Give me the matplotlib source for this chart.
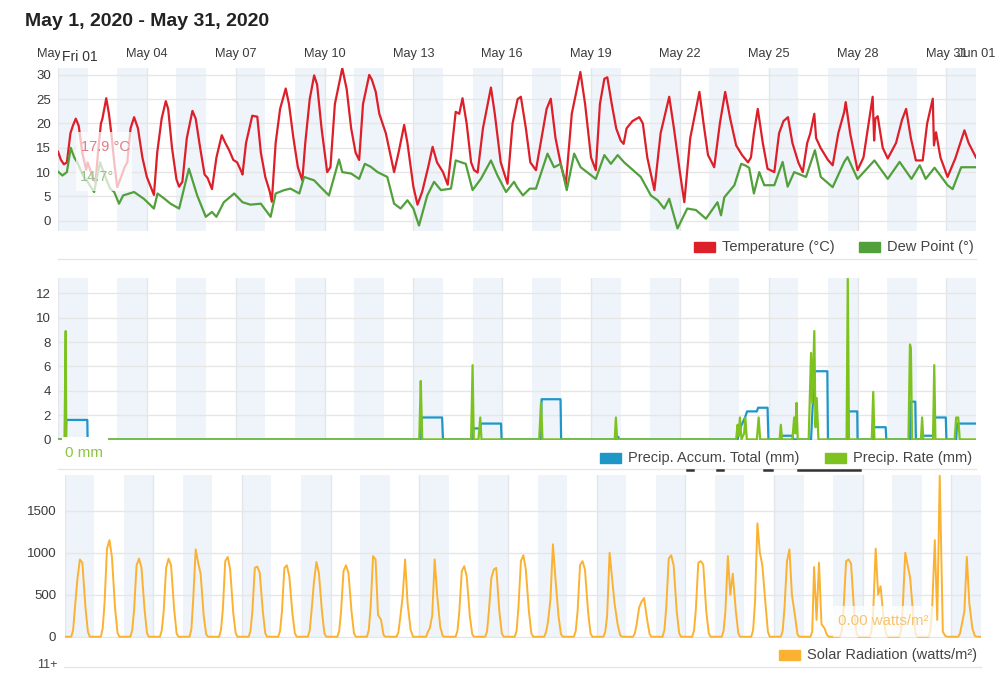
# Weather history chart, May 2020 (temperature / precipitation / solar)
import numpy as np
import matplotlib.pyplot as plt
from matplotlib.patches import Rectangle
from matplotlib.lines import Line2D

plt.rcParams['font.family'] = ['Liberation Sans', 'DejaVu Sans']

# --- data (time in days since May 1 00:00) ---
tick_days = [0, 3, 6, 9, 12, 15, 18, 21, 24, 27, 30, 31]
tick_labels = ['May 01', 'May 04', 'May 07', 'May 10', 'May 13', 'May 16',
               'May 19', 'May 22', 'May 25', 'May 28', 'May 31', 'Jun 01']

temp_t = [0.0, 0.1, 0.2, 0.3, 0.42, 0.5, 0.6, 0.7, 0.82, 0.95, 1.0, 1.2, 1.27, 1.35, 1.45,
          1.5, 1.63, 1.72, 1.8, 1.9, 2.0, 2.1, 2.25, 2.34, 2.45, 2.57, 2.7, 2.85, 3.0, 3.24,
          3.35, 3.5, 3.64, 3.72, 3.85, 4.0, 4.09, 4.2, 4.35, 4.54, 4.65, 4.8, 4.95, 5.05, 5.2,
          5.35, 5.53, 5.65, 5.78, 5.92, 6.05, 6.2, 6.23, 6.35, 6.56, 6.73, 6.85, 7.0, 7.15, 7.22,
          7.35, 7.5, 7.69, 7.8, 7.95, 8.1, 8.25, 8.35, 8.5, 8.65, 8.75, 8.9, 9.09, 9.2, 9.35,
          9.6, 9.75, 9.9, 10.05, 10.17, 10.3, 10.51, 10.6, 10.73, 10.85, 11.07, 11.35, 11.5, 11.69, 11.8,
          12.0, 12.14, 12.3, 12.5, 12.65, 12.8, 13.0, 13.16, 13.3, 13.43, 13.55, 13.66, 13.8, 13.95, 14.05,
          14.17, 14.35, 14.62, 14.75, 14.95, 15.18, 15.35, 15.52, 15.63, 15.8, 15.95, 16.14, 16.3, 16.5, 16.64,
          16.8, 17.0, 17.15, 17.35, 17.64, 17.8, 18.0, 18.16, 18.3, 18.45, 18.55, 18.7, 18.85, 19.0, 19.1,
          19.2, 19.4, 19.63, 19.75, 19.9, 20.14, 20.35, 20.64, 20.8, 21.0, 21.15, 21.35, 21.66, 21.8, 21.95,
          22.16, 22.35, 22.53, 22.7, 22.9, 23.1, 23.3, 23.4, 23.5, 23.63, 23.8, 23.96, 24.19, 24.35, 24.5,
          24.65, 24.8, 25.0, 25.15, 25.3, 25.4, 25.54, 25.6, 25.75, 26.0, 26.16, 26.35, 26.55, 26.6, 26.75,
          27.0, 27.2, 27.4, 27.51, 27.56, 27.6, 27.68, 27.85, 28.02, 28.3, 28.5, 28.64, 28.8, 28.97, 29.2,
          29.35, 29.54, 29.58, 29.65, 29.8, 30.04, 30.3, 30.61, 30.75, 31.0]
temp_v = [14.2, 12.5, 11.6, 12.0, 18.0, 19.5, 21.0, 19.5, 14.0, 10.5, 12.0, 8.5, 8.0, 14.0, 20.0,
          21.0, 25.2, 22.0, 18.0, 12.0, 6.9, 8.5, 11.0, 12.0, 19.0, 21.3, 19.0, 13.0, 9.0, 5.3,
          14.0, 21.0, 24.6, 23.0, 15.0, 8.5, 7.0, 8.0, 17.0, 22.6, 21.0, 15.0, 9.5, 8.8, 6.5,
          13.0, 17.6, 16.0, 14.5, 12.5, 12.0, 10.0, 9.5, 16.0, 21.6, 21.4, 14.0, 9.0, 6.0, 3.9,
          16.0, 23.0, 27.2, 24.0, 17.0, 11.0, 8.3, 16.0, 25.0, 29.9, 28.0, 19.0, 10.0, 11.0, 24.0,
          31.4, 27.0, 19.0, 14.0, 12.5, 24.0, 30.0, 29.0, 26.5, 22.0, 18.0, 10.0, 14.0, 19.7, 16.0,
          7.0, 3.3, 6.0, 11.0, 15.2, 12.0, 10.0, 7.4, 15.0, 22.4, 22.0, 25.2, 20.0, 12.0, 10.4,
          9.9, 19.0, 27.4, 22.0, 12.0, 7.6, 20.0, 25.0, 25.5, 19.0, 12.0, 10.4, 16.0, 23.0, 25.1,
          17.0, 11.0, 7.6, 22.0, 30.6, 24.0, 13.0, 10.4, 24.0, 29.2, 29.5, 24.0, 19.0, 16.5, 15.8,
          19.0, 20.5, 21.3, 20.0, 13.0, 6.3, 18.0, 25.5, 19.0, 10.0, 3.8, 17.0, 26.5, 20.0, 13.5,
          11.0, 20.0, 26.5, 21.0, 15.5, 13.5, 12.0, 13.0, 18.0, 23.0, 16.0, 10.7, 10.0, 18.0, 20.5,
          21.3, 16.0, 12.0, 10.0, 16.0, 17.9, 22.0, 17.0, 15.0, 12.5, 11.4, 18.0, 22.4, 24.4, 18.0,
          10.4, 13.0, 21.0, 25.5, 16.5, 21.0, 21.5, 15.0, 12.8, 16.0, 20.7, 23.0, 17.0, 12.4, 12.4,
          20.0, 25.1, 15.5, 18.2, 13.0, 9.0, 12.8, 18.6, 16.0, 13.0]

dew_t = [0.0, 0.15, 0.3, 0.43, 0.55, 0.65, 0.85, 1.0, 1.22, 1.35, 1.42, 1.6, 1.76, 1.9, 2.06,
         2.2, 2.57, 2.9, 3.24, 3.36, 3.6, 3.8, 4.09, 4.42, 4.7, 4.99, 5.2, 5.35, 5.6, 5.95,
         6.23, 6.5, 6.85, 7.18, 7.35, 7.64, 7.85, 8.15, 8.31, 8.65, 8.87, 9.15, 9.49, 9.6, 9.9,
         10.17, 10.36, 10.56, 10.79, 11.12, 11.35, 11.57, 11.8, 12.0, 12.19, 12.47, 12.7, 12.93, 13.27, 13.43,
         13.77, 14.0, 14.28, 14.62, 14.84, 15.13, 15.4, 15.5, 15.7, 15.93, 16.14, 16.53, 16.75, 16.98, 17.18,
         17.43, 17.65, 18.16, 18.45, 18.67, 18.9, 19.12, 19.68, 20.02, 20.25, 20.47, 20.64, 20.92, 21.25, 21.54,
         21.88, 22.27, 22.39, 22.5, 22.84, 23.07, 23.2, 23.34, 23.5, 23.68, 23.85, 24.19, 24.47, 24.64, 24.86,
         25.26, 25.56, 25.76, 26.16, 26.55, 26.66, 27.0, 27.57, 28.02, 28.42, 28.82, 29.1, 29.3, 29.6, 30.04,
         30.21, 30.5, 31.0]
dew_v = [10.1, 9.3, 10.0, 15.0, 13.0, 12.0, 9.3, 8.0, 5.9, 10.0, 12.0, 9.0, 6.6, 5.9, 3.5,
         5.2, 5.9, 4.5, 2.5, 5.6, 4.5, 3.5, 2.5, 10.7, 5.2, 0.8, 1.8, 0.8, 3.8, 5.6,
         3.8, 3.3, 3.5, 0.8, 5.6, 6.3, 6.6, 5.6, 9.0, 8.3, 6.9, 5.2, 12.6, 10.0, 9.7,
         8.6, 11.7, 11.1, 10.0, 9.0, 3.5, 2.5, 4.2, 2.5, -1.0, 5.2, 8.0, 6.3, 6.6, 12.4,
         11.7, 6.3, 8.6, 12.4, 9.3, 5.9, 8.0, 6.9, 5.2, 6.6, 6.6, 13.8, 11.0, 11.7, 6.3,
         13.8, 11.0, 8.6, 13.5, 11.7, 13.5, 12.0, 9.0, 5.2, 4.2, 2.5, 4.5, -1.6, 2.5, 2.2,
         0.4, 3.8, 1.1, 4.8, 7.3, 11.7, 11.4, 10.9, 5.6, 10.0, 7.3, 7.3, 12.1, 7.0, 10.0,
         9.0, 14.5, 9.0, 6.9, 12.1, 13.1, 8.6, 12.4, 8.6, 12.1, 8.6, 11.4, 8.6, 10.9, 7.3,
         6.5, 11.0, 11.0]

rate_t = [0.0, 0.22, 0.26, 0.28, 12.2, 12.25, 12.28, 12.3, 13.95, 14.0, 14.04, 14.2, 14.26, 14.3,
          16.25, 16.31, 16.36, 18.8, 18.84, 18.88, 22.9, 22.95, 22.98, 23.03, 23.08, 23.17, 23.21, 23.26,
          23.6, 23.66, 23.71, 24.37, 24.41, 24.45, 24.8, 24.86, 24.9, 24.94, 24.98,
          25.35, 25.43, 25.47, 25.54, 25.58, 25.62, 25.68, 26.63, 26.67, 26.71, 27.48, 27.53, 27.57,
          28.72, 28.77, 28.8, 28.84, 29.14, 29.18, 29.22, 29.55, 29.59, 29.63, 30.28, 30.33, 30.4, 30.45, 31.0]
rate_v = [0, 0, 8.9, 0, 0, 4.8, 1.8, 0, 0, 6.1, 0, 0, 1.8, 0,
          0, 3.0, 0, 0, 1.8, 0, 0, 1.2, 0.3, 1.8, 0, 0.5, 1.8, 0,
          0, 1.8, 0, 0, 1.2, 0, 0, 1.8, 0.5, 3.0, 0,
          0, 7.1, 3.0, 8.9, 1.0, 3.4, 0, 0, 13.2, 0, 0, 3.9, 0,
          0, 7.8, 7.5, 0, 0, 1.8, 0, 0, 6.1, 0, 0, 1.8, 1.8, 0, 0]

accum_t = [0.0, 0.26, 0.28, 0.99, 1.0, 12.25, 12.28, 12.97, 13.0, 14.0, 14.03, 14.26, 14.28, 14.96, 14.98,
           16.3, 16.33, 16.97, 16.99, 18.84, 18.86, 18.92, 18.95, 22.95, 23.05, 23.2, 23.27, 23.6, 23.64,
           23.96, 23.99, 24.4, 24.42, 24.8, 24.83, 25.43, 25.5, 25.55, 25.98, 26.0, 26.67, 26.69, 26.99, 27.0,
           27.53, 27.55, 27.95, 27.97, 28.77, 28.79, 28.95, 28.97, 29.18, 29.2, 29.55, 29.6, 29.98, 30.0,
           30.33, 30.36, 31.0]
accum_v = [0, 0, 1.6, 1.6, 0, 0, 1.8, 1.8, 0, 0, 0.9, 0.9, 1.3, 1.3, 0,
           0, 3.3, 3.3, 0, 0, 0.2, 0.2, 0, 0, 1.0, 1.8, 2.3, 2.3, 2.6,
           2.6, 0, 0, 0.3, 0.3, 0, 0, 3.5, 5.6, 5.6, 0, 0, 2.3, 2.3, 0,
           0, 1.0, 1.0, 0, 0, 3.1, 3.1, 0, 0, 0.3, 0.3, 1.8, 1.8, 0,
           0, 1.3, 1.3]

# solar radiation, sampled at these hours of each day (0 before/after)
solar_hours = [5.5, 7, 8.5, 10.5, 12.5, 14.5, 17, 19, 20.5]
solar_days = [
    [80, 350, 690, 920, 880, 350, 60], [100, 400, 1050, 1150, 950, 350, 50],
    [80, 320, 850, 930, 820, 320, 40], [80, 300, 820, 930, 850, 330, 40],
    [90, 450, 1040, 880, 750, 250, 30], [80, 320, 900, 950, 800, 280, 40],
    [70, 300, 820, 835, 760, 300, 40], [70, 300, 820, 850, 720, 280, 40],
    [70, 300, 650, 890, 760, 300, 40], [70, 300, 780, 850, 760, 300, 40],
    [80, 350, 960, 920, 260, 200, 20], [50, 220, 480, 920, 400, 80, 0],
    [60, 100, 250, 920, 500, 120, 10], [70, 300, 780, 840, 720, 250, 30],
    [60, 300, 700, 800, 820, 300, 40], [70, 350, 900, 970, 800, 300, 40],
    [60, 180, 450, 1100, 700, 250, 30], [70, 300, 850, 900, 800, 300, 40],
    [60, 250, 1000, 700, 400, 150, 20], [40, 150, 350, 420, 460, 200, 30],
    [80, 350, 930, 970, 850, 300, 40], [70, 320, 880, 900, 860, 300, 40],
    [70, 300, 960, 500, 750, 300, 40], [80, 400, 1350, 1000, 850, 400, 60],
    [70, 350, 900, 1040, 500, 250, 30], [60, 830, 200, 880, 150, 100, 20],
    [70, 350, 900, 920, 870, 300, 40], [60, 300, 1050, 500, 600, 200, 30],
    [70, 350, 1000, 850, 700, 250, 30], [80, 400, 1150, 200, 1925, 60, 10],
    [40, 150, 300, 950, 400, 100, 10],
]

solar_t, solar_v = [0.0], [0]
for d, vals in enumerate(solar_days):
    for h, v in zip(solar_hours, [0] + vals + [0]):
        solar_t.append(d + h / 24)
        solar_v.append(v)
solar_t.append(31.0)
solar_v.append(0)

# --- layout helpers (pixel coords from top-left) ---
W, H = 1000, 684
fig = plt.figure(figsize=(W / 100, H / 100), dpi=100)

def fx(x):
    return x / W

def fy(y):
    return 1 - y / H

def make_ax(left, top, right, bottom):
    return fig.add_axes([fx(left), fy(bottom), (right - left) / W, (bottom - top) / H])

ax1 = make_ax(58, 68, 976, 231)
ax2 = make_ax(58, 278, 976, 440)
ax3 = make_ax(64.5, 475, 981, 638)

for ax in (ax1, ax2, ax3):
    ax.set_xlim(0, 31)
    for d in range(0, 31, 2):
        ax.axvspan(d, d + 1, color='#eef4fa', lw=0, zorder=0)
    for d in tick_days[:-1]:
        ax.axvline(d, color='#e3e6ea', lw=1, zorder=0.5)
    for s in ax.spines.values():
        s.set_visible(False)
    ax.yaxis.grid(True, color='#e6e6e6', lw=1)
    ax.set_axisbelow(True)
    ax.tick_params(length=0, labelsize=9.5, labelcolor='#3a3a3a', pad=5)
    ax.set_xticks([])

ax1.xaxis.tick_top()
ax1.set_xticks(tick_days)
ax1.set_xticklabels(tick_labels)
ax1.tick_params(axis='x', pad=5.5, labelsize=9.2)
ax1.xaxis.grid(False)

# temperature panel
ax1.plot(temp_t, temp_v, color='#dd1f2a', lw=1.6, zorder=3)
ax1.plot(dew_t, dew_v, color='#52a03b', lw=1.6, zorder=3)
ax1.set_ylim(-2.12, 31.42)
ax1.set_yticks([0, 5, 10, 15, 20, 25, 30])

# precipitation panel
ax2.plot(accum_t, accum_v, color='#1e96c8', lw=1.6, zorder=3)
ax2.plot(rate_t, rate_v, color='#7dc21e', lw=1.6, zorder=4)
ax2.set_ylim(-0.05, 13.26)
ax2.set_yticks([0, 2, 4, 6, 8, 10, 12])

# solar panel
ax3.plot(solar_t, solar_v, color='#fbb232', lw=1.4, zorder=3)
ax3.set_ylim(-15, 1925)
ax3.set_yticks([0, 500, 1000, 1500])
ax3.tick_params(pad=6)

# title
fig.text(fx(25), fy(22), 'May 1, 2020 - May 31, 2020', fontsize=14, fontweight='bold',
         color='#222', va='center', ha='left')

# legends
def legend_item(x, y, color, label):
    fig.patches.append(Rectangle((fx(x), fy(y + 5)), 21 / W, 10 / H, color=color,
                                 transform=fig.transFigure, figure=fig))
    fig.text(fx(x + 28), fy(y), label, fontsize=10.5, color='#444', va='center', ha='left')

legend_item(694, 247, '#dd1f2a', 'Temperature (°C)')
legend_item(859, 247, '#52a03b', 'Dew Point (°)')
legend_item(600, 458, '#1e96c8', 'Precip. Accum. Total (mm)')
legend_item(825, 458, '#7dc21e', 'Precip. Rate (mm)')
legend_item(779, 655, '#fbb232', 'Solar Radiation (watts/m²)')

# separators
for y, x0, x1 in [(259, 58, 976), (469, 58, 976), (667, 64, 981)]:
    fig.add_artist(Line2D([fx(x0), fx(x1)], [fy(y), fy(y)], color='#e6e6e6', lw=1))
for x0, x1 in [(687, 693), (717, 723), (764, 772), (798, 860)]:
    fig.add_artist(Line2D([fx(x0), fx(x1)], [fy(470), fy(470)], color='#333', lw=1.8))
fig.text(fx(58), fy(665), '11+', fontsize=9, color='#444', ha='right', va='center')

# tooltip overlays
def white_box(l, t, r, b, alpha):
    fig.patches.append(Rectangle((fx(l), fy(b)), (r - l) / W, (b - t) / H, color='white',
                                 alpha=alpha, lw=0, transform=fig.transFigure, figure=fig, zorder=5))

white_box(60, 48, 101, 66, 1.0)
fig.text(fx(62), fy(57), 'Fri 01', fontsize=10, color='#333', va='center', zorder=6)

white_box(76, 132, 132, 191, 0.72)
fig.text(fx(81), fy(147), '17.9 °C', fontsize=10.5, color='#e37a82', va='center', zorder=6)
fig.text(fx(80), fy(177), '14.7°', fontsize=10.5, color='#9cbf8c', va='center', zorder=6)

white_box(62, 437, 108, 466, 1.0)
fig.text(fx(65), fy(453), '0 mm', fontsize=11, color='#8cc63f', va='center', zorder=6)

white_box(833, 606, 933, 637, 0.75)
fig.text(fx(838), fy(621), '0.00 watts/m²', fontsize=10.8, color='#f8c46c', va='center', zorder=6)

plt.savefig('out.png', dpi=100)
